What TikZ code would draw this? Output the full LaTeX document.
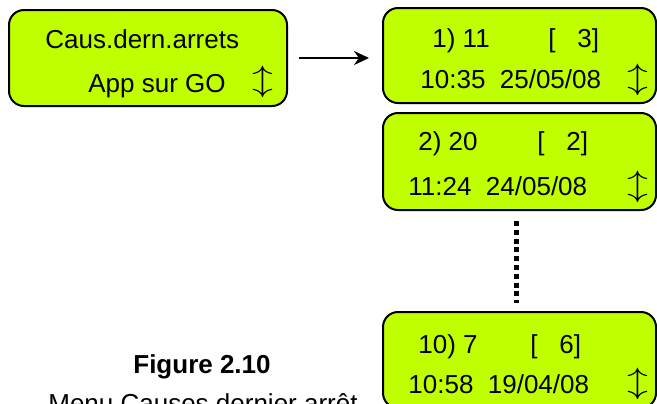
\documentclass[tikz,border=0pt]{standalone}
\usepackage{fontspec}
\setmainfont{Liberation Sans}
\usetikzlibrary{positioning}
\usetikzlibrary{arrows.meta}
\definecolor{lcdgreen}{RGB}{192,255,0}
\tikzset{lcd/.style = {draw, fill=lcdgreen, line width=1pt,
                       rounded corners=7.5pt, minimum width=136.5pt,
                       minimum height=48pt, inner sep=0pt}}
\tikzset{txt/.style = {anchor=base west, inner sep=0pt,
                       font=\fontsize{13}{15}\selectfont}}
\tikzset{updn/.style = {inner sep=0pt, font=\fontsize{15}{15}\selectfont}}
\newcommand{\scrollsign}{\scalebox{1.45}[1.05]{$\updownarrow$}}

\begin{document}
\begin{tikzpicture}[x=0.5pt, y=-0.5pt]
          \useasboundingbox (0,0) rectangle (657,403);
          % menu screen
          \node[lcd, minimum width=139pt] (menu) at (148,58) {};
          \node[txt] (m1) at (45,48) {Caus.dern.arrets};
          \node[txt] (m2) at (88,92) {App sur GO};
          \node[updn] (mud) at (262.5,82) {\scrollsign};
          % stored stops
          \node[lcd, minimum height=47.5pt] (r1) at (519.5,55.5) {};
          \node[lcd, minimum height=48.5pt] (r2) at (519.5,161.5) {};
          \node[lcd] (r3) at (519.5,360) {};
          \node[txt] (a1) at (432,47) {1) 11};
          \node[txt] (b1) at (548,47) {[~~~3]};
          \node[txt] (c1) at (420,88) {10:35~~25/05/08};
          \node[updn] (u1) at (637.5,80) {\scrollsign};
          \node[txt] (a2) at (418,150) {2) 20};
          \node[txt] (b2) at (537,150) {[~~~2]};
          \node[txt] (c2) at (408,195) {11:24~~24/05/08};
          \node[updn] (u2) at (637.5,187) {\scrollsign};
          \node[txt] (a3) at (418,353) {10) 7};
          \node[txt] (b3) at (530,353) {[~~~6]};
          \node[txt] (c3) at (408,393) {10:58~~19/04/08};
          \node[updn] (u3) at (637.5,384) {\scrollsign};
          % connectors
          \draw[line width=1pt, -{Stealth[length=7.5pt, width=7pt]},
                shorten <=5.5pt, shorten >=6.5pt]
            (menu.east) -- (menu.east -| r1.west);
          \draw[line width=2.5pt, dash pattern=on 2.5pt off 1.9pt,
                shorten <=5pt, shorten >=4pt]
            ([xshift=-1.5pt]r2.south) -- ([xshift=-1.5pt]r3.north);
          % caption
          \node[anchor=base, inner sep=0pt, font=\fontsize{13}{15}\selectfont\bfseries]
            (fig) at (202,373) {Figure 2.10};
          \node[anchor=base, inner sep=0pt, font=\fontsize{13}{15}\selectfont]
            (cap) at (203,412) {Menu Causes dernier arrêt};
        \end{tikzpicture}
\end{document}
